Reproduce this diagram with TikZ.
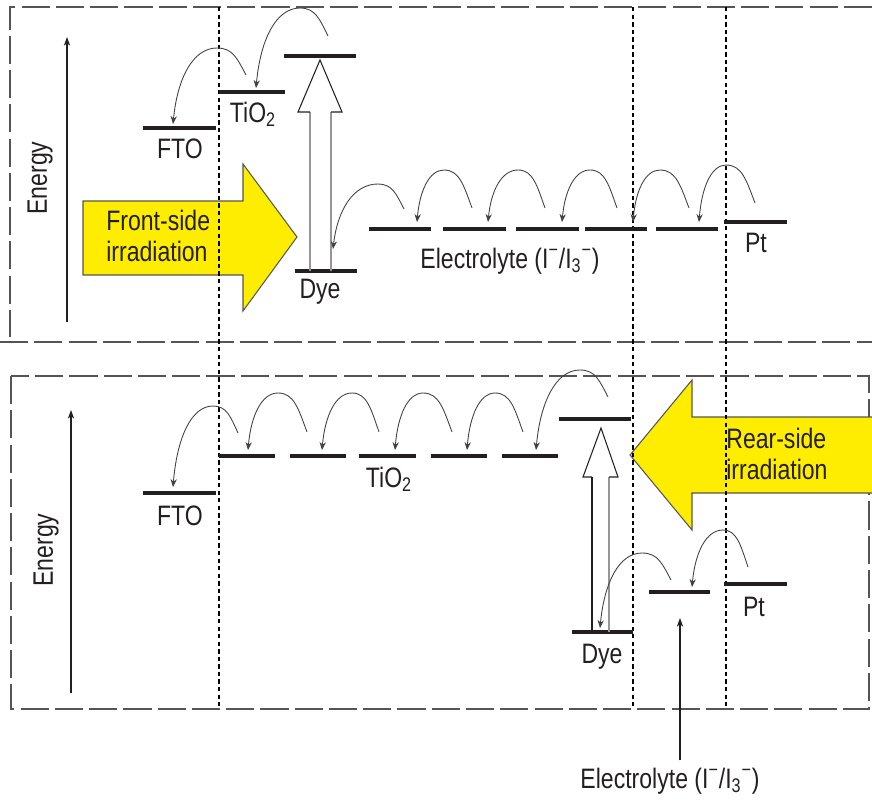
\documentclass[tikz,border=0pt]{standalone}
\usepackage{fontspec}
\setmainfont{Liberation Sans}[FakeStretch=0.82]
\usetikzlibrary{arrows.meta}
\definecolor{LightYellow}{RGB}{255,237,0}
\definecolor{FrameGray}{RGB}{85,85,85}
\definecolor{InkBlack}{RGB}{35,31,32}
\definecolor{ShaftGray}{RGB}{150,150,150}

\begin{document}
\begin{tikzpicture}[
      x=0.02cm,y=-0.02cm,
      every node/.style={font=\fontsize{16}{18}\selectfont,text=InkBlack,inner sep=0pt},
      frameLine/.style={FrameGray,line width=0.9pt,dash pattern=on 16pt off 3.5pt},
      sepLine/.style={black,line width=0.6pt,dash pattern=on 2.5pt off 1.8pt},
      level/.style={InkBlack,line width=2.4pt},
      hopArr/.style={-{Stealth[length=4.5pt,width=3.6pt]},InkBlack!85,line width=0.5pt},
      enArr/.style={-{Stealth[length=5pt,width=3.6pt]},InkBlack,line width=0.6pt},
      lightArr/.style={fill=LightYellow,draw=FrameGray,line width=0.6pt,line join=miter},
      excHead/.style={InkBlack,line width=0.6pt,line join=miter},
      lbl/.style={anchor=base}
    ]
    \useasboundingbox (0,0) rectangle (872,801);

    % Panel frames
    \draw[frameLine] (872,7) -- (10,7) -- (10,337);
    \draw[frameLine] (0,342) -- (872,342);
    \draw[frameLine] (11,376) rectangle (869,709);

    % Irradiation arrows
    \draw[lightArr] (83,201) -- (243,201) -- (243,164) -- (297,237) -- (243,311)
      -- (243,275) -- (83,275) -- cycle;
    \draw[lightArr] (872,417) -- (692,417) -- (692,380) -- (630,455) -- (692,530)
      -- (692,493) -- (872,493);
    \node[anchor=west,align=left] (front) at (106,236) {Front-side\\irradiation};
    \node[anchor=west,align=left] (rear) at (726,454) {Rear-side\\irradiation};

    % Interfaces
    \foreach \x in {219,633,726}
      \draw[sepLine] (\x,7) -- (\x,709);

    % Energy axes
    \coordinate (enTopA) at (67,322);
    \coordinate (enTopB) at (67,37);
    \draw[enArr] (enTopA) -- (enTopB);
    \node[rotate=90] (enTop) at (40,178) {Energy};
    \coordinate (enBotA) at (71,693);
    \coordinate (enBotB) at (71,410);
    \draw[enArr] (enBotA) -- (enBotB);
    \node[rotate=90] (enBot) at (46,550) {Energy};

    % Front-side levels
    \draw[level] (143,128) -- (216,128);
    \draw[level] (219,92) -- (285,92);
    \draw[level] (284,56) -- (356,56);
    \draw[level] (295,271) -- (357,271);
    \foreach \a/\b in {369/431,443/506,516/579,585/647,656/718}
      \draw[level] (\a,229) -- (\b,229);
    \draw[level] (724,222) -- (787,222);

    \node[lbl] (ftoT) at (180,158) {FTO};
    \node[lbl] (tioT) at (253,122) {TiO\textsubscript{2}};
    \node[lbl] (dyeT) at (320,298) {Dye};
    \node[lbl] (elT) at (510,268) {Electrolyte (I\textsuperscript{−}/I\textsubscript{3}\textsuperscript{−})};
    \node[lbl] (ptT) at (756,252) {Pt};

    % Dye excitation, front
    \draw[ShaftGray,line width=0.6pt] (310,271) -- (310,112) (331,112) -- (331,271);
    \draw[excHead] (310,112) -- (298,112) -- (320,60) -- (342,112) -- (331,112);

    % Rear-side levels
    \draw[level] (143,493) -- (216,493);
    \foreach \a/\b in {219/275,290/346,359/416,431/487,502/558}
      \draw[level] (\a,456) -- (\b,456);
    \draw[level] (559,419) -- (631,419);
    \draw[level] (572,632) -- (633,632);
    \draw[level] (649,592) -- (710,592);
    \draw[level] (724,584) -- (787,584);

    \node[lbl] (ftoB) at (180,525) {FTO};
    \node[lbl] (tioB) at (389,487) {TiO\textsubscript{2}};
    \node[lbl] (dyeB) at (602,663) {Dye};
    \node[lbl] (ptB) at (754,616) {Pt};
    \node[lbl] (elB) at (670,788) {Electrolyte (I\textsuperscript{−}/I\textsubscript{3}\textsuperscript{−})};
    \coordinate (elLvl) at (680,618);
    \draw[enArr] ([yshift=4pt]elB.north -| elLvl) -- (elLvl);

    % Dye excitation, rear
    \draw[InkBlack,line width=0.6pt] (592,632) -- (592,477);
    \draw[ShaftGray,line width=0.6pt] (609,477) -- (609,632);
    \draw[excHead] (592,477) -- (583,477) -- (601,428) -- (618,477) -- (609,477);

    % Electron hops: start / peak / end
    \foreach \xs/\ys/\xp/\yp/\xe/\ye in {
        246/75/217/48/173/124, 328/36/300/8/256/88, 404/209/378/184/333/249,
        472/208/444/170/417/222, 545/208/518/170/488/222, 617/208/590/170/562/222,
        689/208/660/170/633/222, 755/203/726/165/699/222,
        238/433/213/406/173/487, 307/432/278/393/248/450, 379/432/352/393/322/450,
        452/432/423/393/395/450, 523/432/495/393/467/450, 608/397/580/370/536/450,
        671/580/642/553/600/628, 748/567/723/530/692/587}
      \draw[hopArr] (\xs,\ys)
        .. controls ({\xs-0.3*(\xs-\xp)},{\ys-0.6*(\ys-\yp)}) and ({\xp+0.55*(\xs-\xp)},\yp) .. (\xp,\yp)
        .. controls ({\xp-0.55*(\xp-\xe)},\yp) and ({\xe+0.1*(\xp-\xe)},{\ye-0.6*(\ye-\yp)}) .. (\xe,\ye);
  \end{tikzpicture}
\end{document}
